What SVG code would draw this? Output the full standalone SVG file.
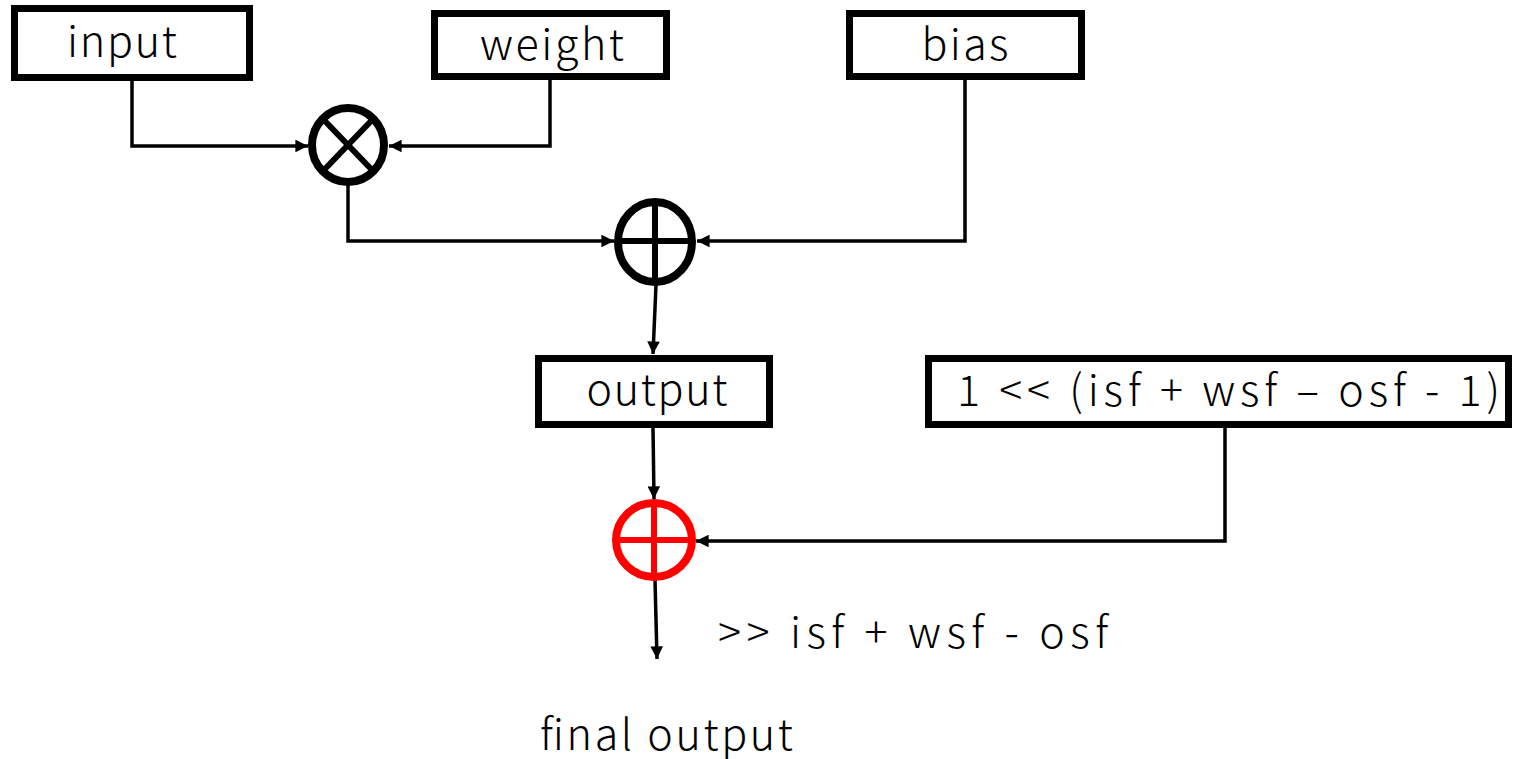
<svg xmlns="http://www.w3.org/2000/svg" width="1513" height="759" viewBox="0 0 1513 759">
<style>
.box{fill:#fff;stroke:#000;stroke-width:7}
.lbl{font-family:"Noto Sans CJK JP","Noto Sans",sans-serif;font-size:43px;font-weight:300;fill:#000}
.op{fill:#fff;stroke:#000;stroke-width:8}
.opl{stroke:#000;stroke-width:6;fill:none}
.red{stroke:#ff0000}
.conn{fill:none;stroke:#000;stroke-width:3.5}
</style>
<defs>
<marker id="ah" viewBox="0 0 10 10" refX="10" refY="5" markerWidth="4" markerHeight="3.6" orient="auto" markerUnits="strokeWidth">
<path d="M0,0 L10,5 L0,10 z" fill="#000"/>
</marker>
</defs>
<g id="connectors">
<polyline class="conn" points="132,80 132,146 308,146" marker-end="url(#ah)"/>
<polyline class="conn" points="550,80 550,146 389,146" marker-end="url(#ah)"/>
<polyline class="conn" points="348,183 348,241 614,241" marker-end="url(#ah)"/>
<polyline class="conn" points="965,80 965,241 697,241" marker-end="url(#ah)"/>
<line class="conn" x1="656" y1="285" x2="653" y2="354" marker-end="url(#ah)"/>
<line class="conn" x1="653" y1="428" x2="654" y2="499" marker-end="url(#ah)"/>
<polyline class="conn" points="1225,428 1225,541 696,541" marker-end="url(#ah)"/>
<line class="conn" x1="655" y1="580" x2="657" y2="659" marker-end="url(#ah)"/>
</g>
<g id="input">
<rect class="box" x="14.5" y="8.5" width="235" height="69"/>
<text class="lbl" x="122" y="57" text-anchor="middle" textLength="110">input</text>
</g>
<g id="weight">
<rect class="box" x="434.5" y="13.5" width="232" height="63"/>
<text class="lbl" x="552" y="60" text-anchor="middle" textLength="144">weight</text>
</g>
<g id="bias">
<rect class="box" x="849.5" y="13.5" width="232" height="63"/>
<text class="lbl" x="965" y="60" text-anchor="middle" textLength="87">bias</text>
</g>
<g id="multiply">
<ellipse class="op" cx="348" cy="145" rx="36" ry="37"/>
<line class="opl" x1="323" y1="119" x2="373" y2="171"/>
<line class="opl" x1="373" y1="119" x2="323" y2="171"/>
</g>
<g id="add">
<ellipse class="op" cx="655" cy="242" rx="37" ry="40"/>
<line class="opl" x1="655" y1="202" x2="655" y2="282"/>
<line class="opl" x1="618" y1="241" x2="692" y2="241"/>
</g>
<g id="output">
<rect class="box" x="538.5" y="358.5" width="231" height="66"/>
<text class="lbl" x="657" y="405" text-anchor="middle" textLength="141">output</text>
</g>
<g id="rounding">
<rect class="box" x="928.5" y="358.5" width="580" height="66"/>
<text class="lbl" x="957" y="406" textLength="543">1 &lt;&lt; (isf + wsf – osf - 1)</text>
</g>
<g id="round-add">
<ellipse class="op red" cx="654" cy="540" rx="38" ry="37"/>
<line class="opl red" x1="654" y1="503" x2="654" y2="577"/>
<line class="opl red" x1="616" y1="540" x2="692" y2="540"/>
</g>
<g id="shift-label">
<text class="lbl" x="718" y="648" textLength="390">&gt;&gt; isf + wsf - osf</text>
</g>
<g id="final-output">
<text class="lbl" x="540" y="750" textLength="253">final output</text>
</g>
</svg>
